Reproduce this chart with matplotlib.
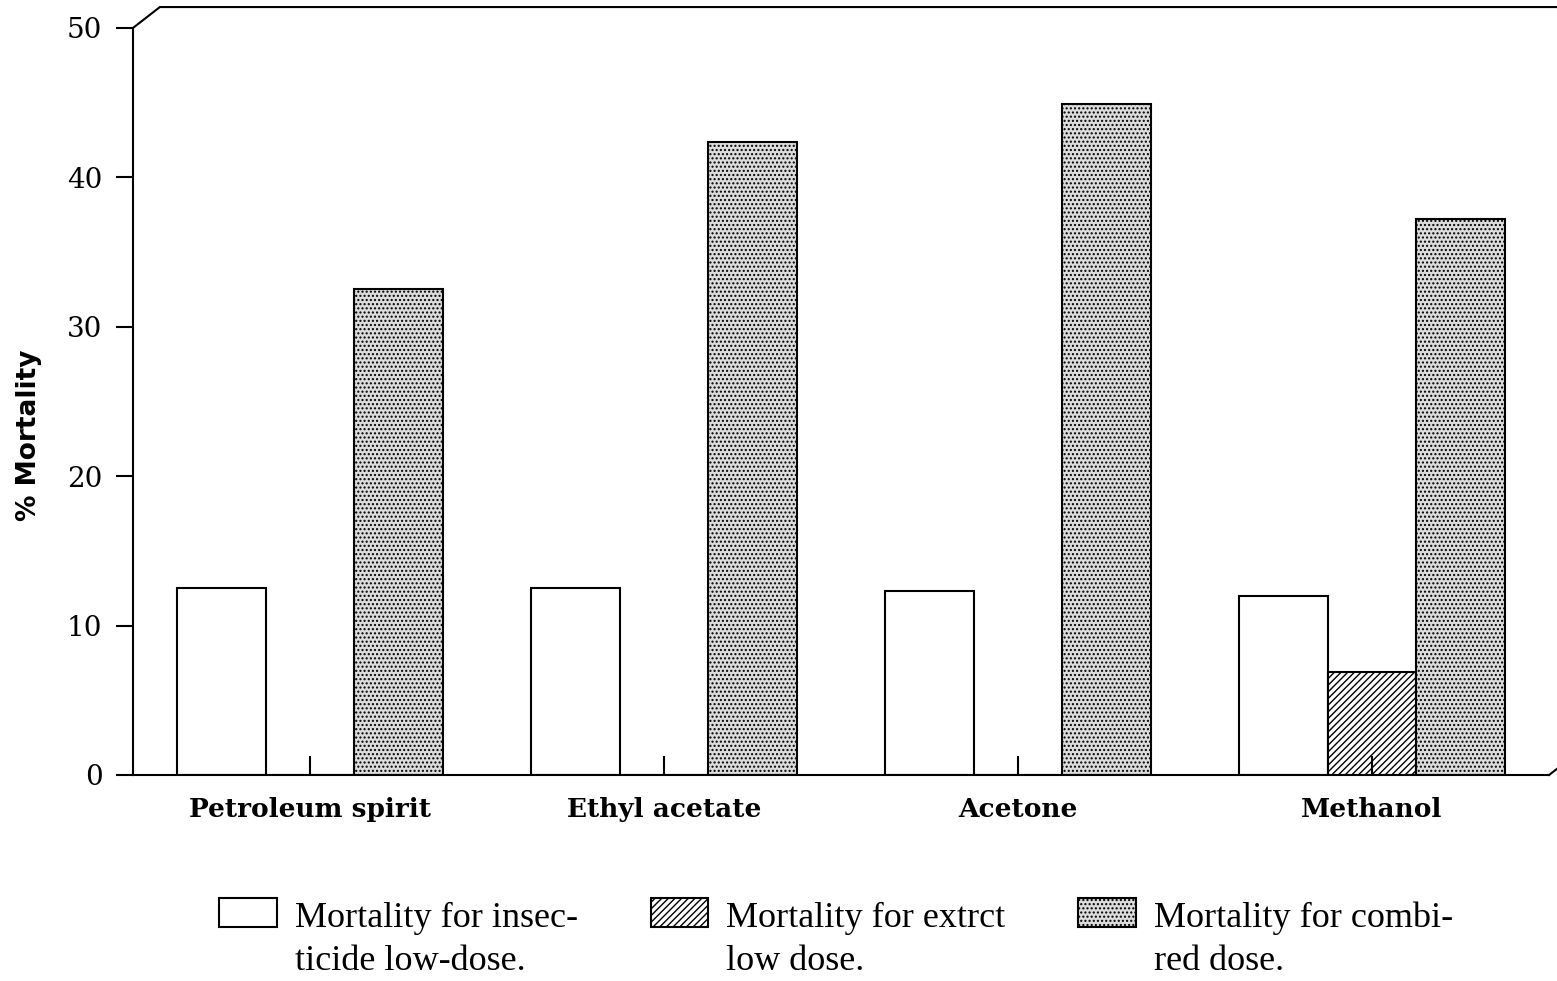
import numpy as np
from matplotlib import pyplot as plt
from matplotlib.patches import Patch, Rectangle
from matplotlib.legend_handler import HandlerPatch

# data
solvents = ["Petroleum spirit", "Ethyl acetate", "Acetone", "Methanol"]
insecticide_low = [12.5, 12.5, 12.3, 12.0]
extract_low = [0.0, 0.0, 0.0, 6.9]
combined = [32.5, 42.4, 44.9, 37.2]
yticks = [0, 10, 20, 30, 40, 50]

labels = ["Mortality for insec-\nticide low-dose.",
          "Mortality for extrct\nlow dose.",
          "Mortality for combi-\nred dose."]

plt.rcParams['hatch.linewidth'] = 1.0
dots = '#dcdcdc'

fig = plt.figure(figsize=(15.57, 9.81), dpi=100)
ax = fig.add_axes([0.0854, 0.210, 0.9095, 0.7615])

x = np.arange(len(solvents))
w = 0.25
ax.bar(x - w, insecticide_low, w, color='white', edgecolor='black', linewidth=1.5)
ax.bar(x, extract_low, w, color='white', edgecolor='black', linewidth=1.5, hatch='/////')
ax.bar(x + w, combined, w, color=dots, edgecolor='black', linewidth=1.5, hatch='....')

ax.set_xlim(-0.5, 3.5)
ax.set_ylim(0, 50)
ax.set_yticks(yticks)
ax.set_xticks(x)
ax.set_xticklabels(solvents, fontsize=19, family='DejaVu Serif', fontweight='bold')
ax.tick_params(axis='y', direction='out', length=12, width=1.5, labelsize=20, pad=10)
ax.tick_params(axis='x', direction='in', length=14, width=1.5, pad=16)
for t in ax.get_yticklabels():
    t.set_family('DejaVu Serif')
ax.set_ylabel("% Mortality", fontsize=19, fontweight='bold')
ax.yaxis.set_label_coords(-0.064, 0.455)

ax.spines['top'].set_visible(False)
ax.spines['right'].set_visible(False)
ax.spines['left'].set_linewidth(1.5)
ax.spines['bottom'].set_linewidth(1.5)

# pseudo-3D frame of the old plotting package
dx, dy = 0.019, 0.028
ax.plot([0, dx, 1.05], [1, 1 + dy, 1 + dy], transform=ax.transAxes,
        color='black', lw=1.5, clip_on=False)
ax.plot([1, 1 + dx], [0, dy], transform=ax.transAxes,
        color='black', lw=1.5, clip_on=False)

# legend box sits level with the first line of its label
def raised_box(legend, orig_handle, xdescent, ydescent, width, height, fontsize):
    return Rectangle((-xdescent, -ydescent + 0.75 * fontsize), width, height)

handles = [Patch(facecolor='white', edgecolor='black', linewidth=1.5),
           Patch(facecolor='white', edgecolor='black', linewidth=1.5, hatch='/////'),
           Patch(facecolor=dots, edgecolor='black', linewidth=1.5, hatch='....')]
fig.legend(handles, labels, loc='center', bbox_to_anchor=(0.537, 0.042), ncol=3,
           frameon=False, handlelength=1.6, handleheight=0.84, columnspacing=2.0,
           handletextpad=0.5,
           handler_map={Patch: HandlerPatch(patch_func=raised_box)},
           prop={'family': 'Liberation Serif', 'size': 26})
for t in fig.legends[0].get_texts():
    t.set_linespacing(1.4)

fig.savefig("out.png", dpi=100)
